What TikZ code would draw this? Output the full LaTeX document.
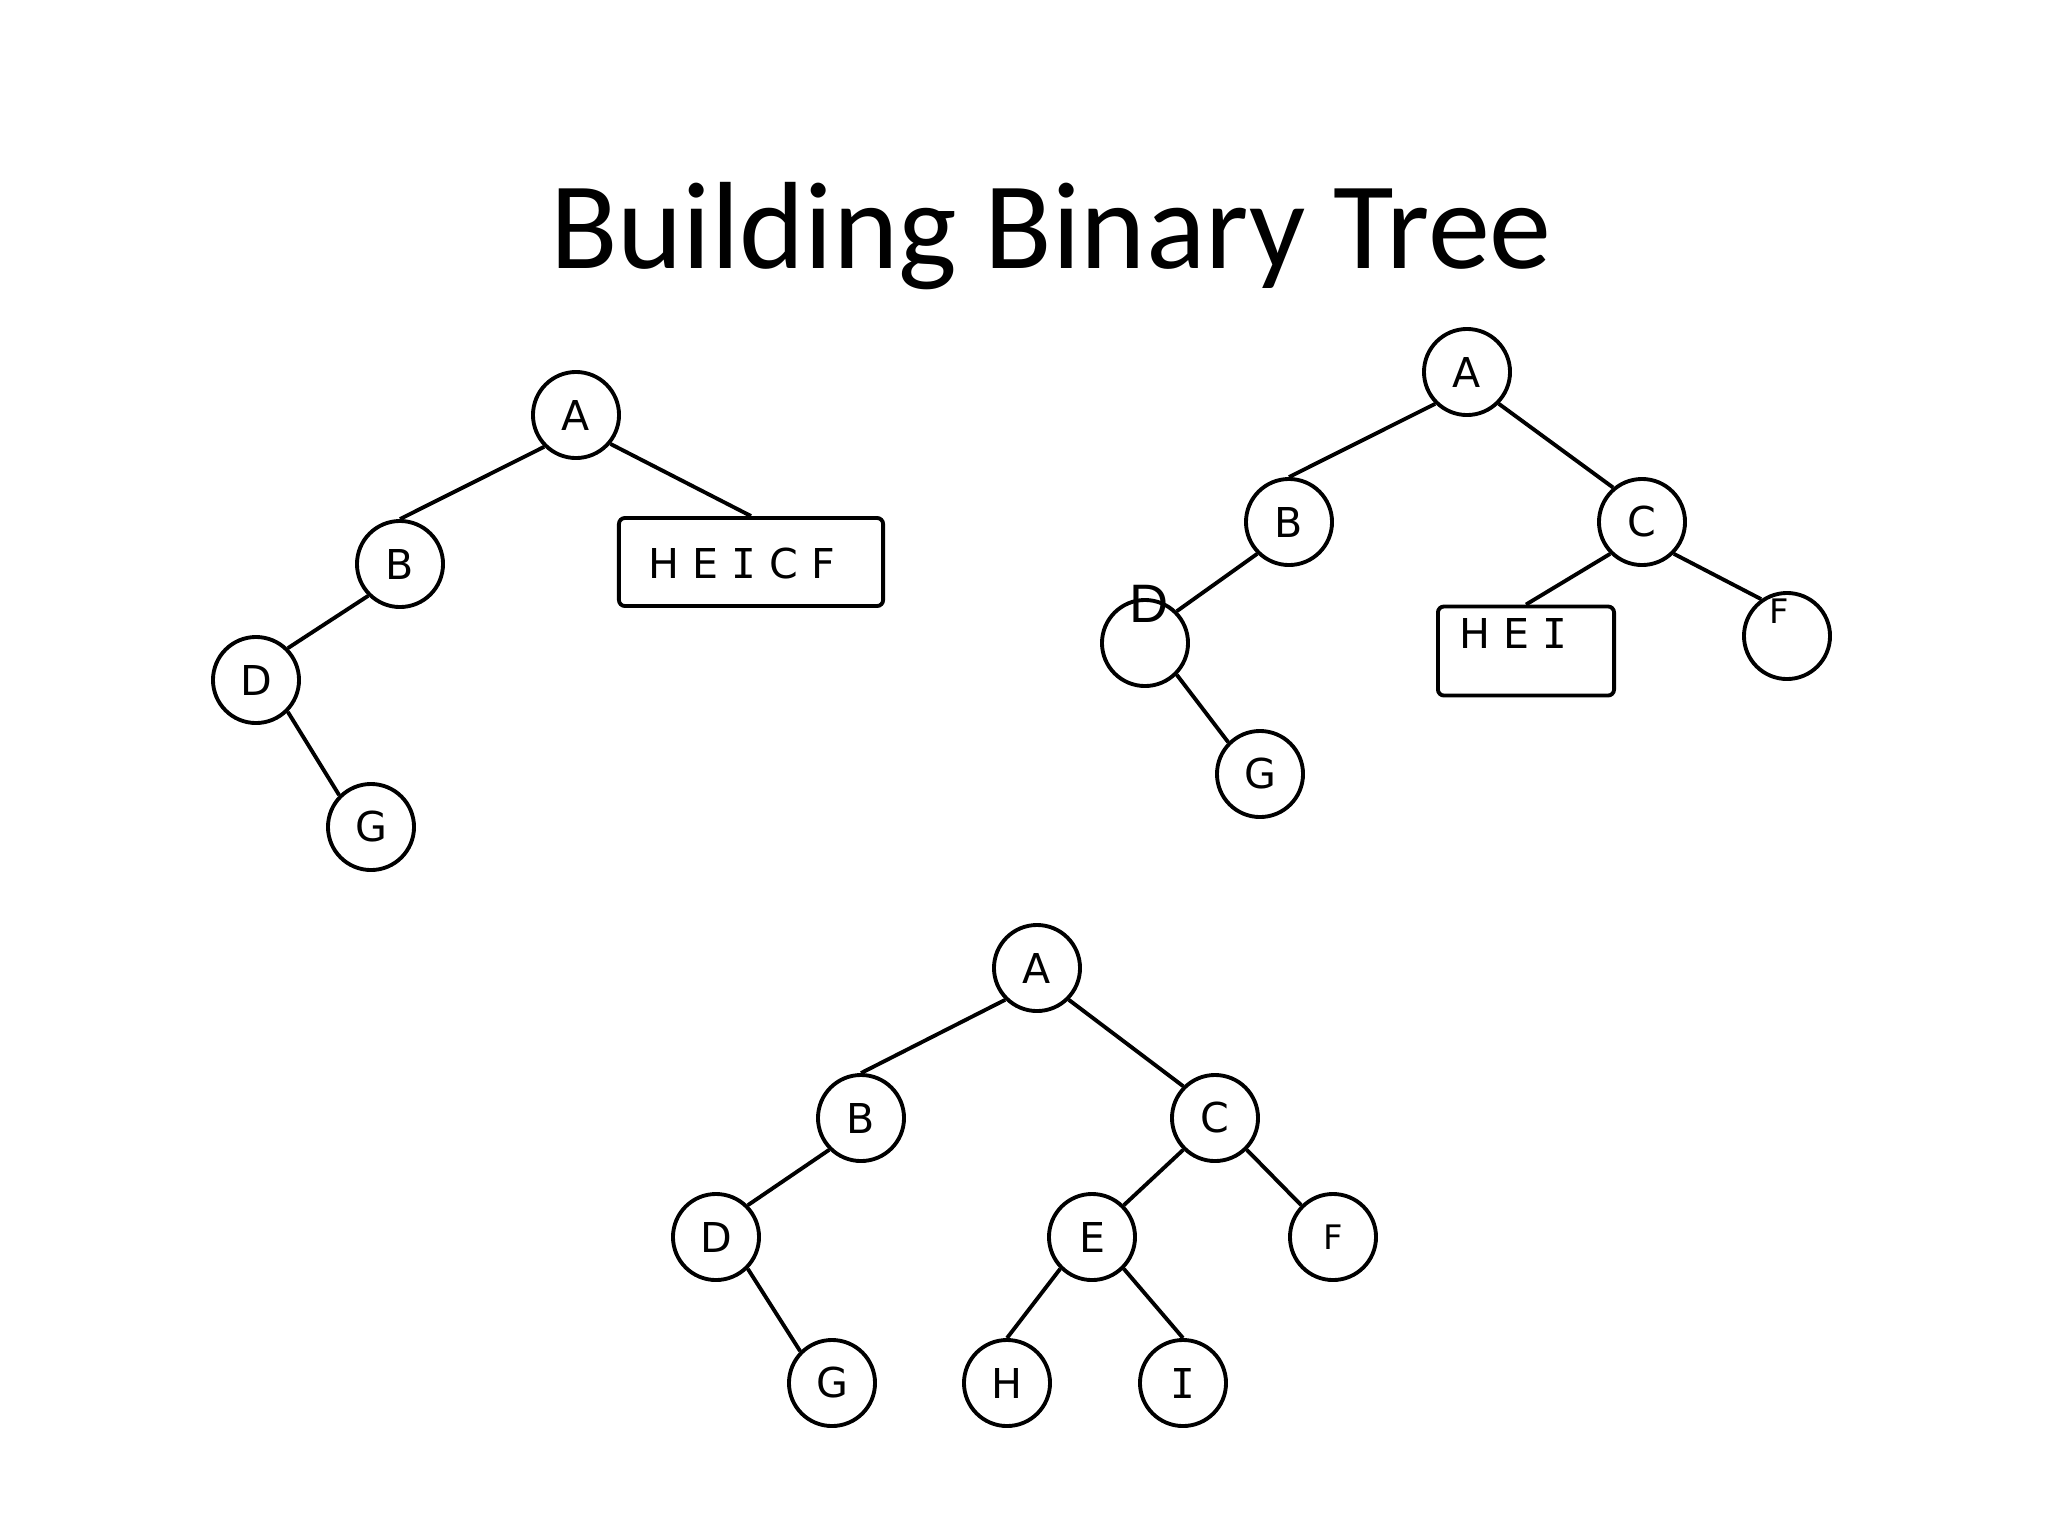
\documentclass[tikz,border=0pt]{standalone}
\usepackage{fontspec}
\setmainfont{DejaVu Sans}
\newfontfamily\titlefont{Carlito}
\newfontfamily\arialfont{Liberation Sans}
\newfontfamily\monofont{DejaVu Sans Mono}
\newcommand{\serifI}{{\monofont I}}
\begin{document}
\begin{tikzpicture}[x=0.01cm,y=-0.01cm,
  nd/.style={circle,draw,line width=1.1pt,minimum size=0.86cm,inner sep=0pt,font=\fontsize{11.7}{14}\selectfont},
  bx/.style={draw,line width=1.1pt,rounded corners=0.06cm,inner sep=0pt},
  lbl/.style={inner sep=0pt,font=\fontsize{11.7}{14}\selectfont},
  small/.style={inner sep=0pt,font=\fontsize{9.6}{12}\selectfont},
  ed/.style={line width=1.1pt}]
\path[use as bounding box, fill=white] (0,0) rectangle (2048,1536);
% title
\node[anchor=base,inner sep=0pt,font=\titlefont\fontsize{35.3}{42}\selectfont] (title) at (1051,268) {Building Binary Tree};
% ---------- tree 1 ----------
\node[nd] (a1) at (576,415) {A};
\node[nd] (b1) at (400,564) {B};
\node[nd] (d1) at (256,680) {D};
\node[nd] (g1) at (371,827) {G};
\node[bx,minimum width=2.64cm,minimum height=0.88cm] (t1box) at (751,562) {};
\node[lbl,anchor=west] (t1txt) at (648,564) {H E \serifI{} C F};
\draw[ed] (a1.south west) -- (b1.north);
\draw[ed] (a1.-40) -- (t1box.north);
\draw[ed] (b1.south west) -- (d1.north east);
\draw[ed] (d1.south east) -- (g1.north west);
% ---------- tree 2 ----------
\node[nd] (a2) at (1467,372) {A};
\node[nd] (b2) at (1289,522) {B};
\node[nd] (c2) at (1642,522) {C};
\node[nd] (d2) at (1145,643) {};
\node[inner sep=0pt,font=\arialfont\fontsize{15.4}{18}\selectfont] (d2l) at (1149,604) {D};
\node[nd] (g2) at (1260,774) {G};
\node[bx,minimum width=1.76cm,minimum height=0.89cm] (t2box) at (1526,651) {};
\node[lbl] (t2txt) at (1513,633) {H E \serifI};
\node[nd] (f2) at (1787,636) {};
\node[small] (f2l) at (1779,611) {F};
\draw[ed] (a2.south west) -- (b2.north);
\draw[ed] (a2.south east) -- (c2.130);
\draw[ed] (b2.south west) -- (d2.north east);
\draw[ed] (d2.south east) -- (g2.north west);
\draw[ed] (c2.south west) -- (t2box.north);
\draw[ed] (c2.south east) -- (f2.125);
% ---------- tree 3 ----------
\node[nd] (a3) at (1037,968) {A};
\node[nd] (b3) at (861,1118) {B};
\node[nd] (c3) at (1215,1118) {C};
\node[nd] (d3) at (716,1237) {D};
\node[nd] (e3) at (1092,1237) {E};
\node[nd,font=\fontsize{9.6}{12}\selectfont] (f3) at (1333,1237) {F};
\node[nd] (g3) at (832,1383) {G};
\node[nd] (h3) at (1007,1383) {H};
\node[nd] (i3) at (1183,1383) {\serifI};
\draw[ed] (a3.south west) -- (b3.north);
\draw[ed] (a3.south east) -- (c3.north west);
\draw[ed] (b3.south west) -- (d3.north east);
\draw[ed] (c3.south west) -- (e3.north east);
\draw[ed] (c3.south east) -- (f3.north west);
\draw[ed] (d3.south east) -- (g3.north west);
\draw[ed] (e3.south west) -- (h3.north);
\draw[ed] (e3.south east) -- (i3.north);
\end{tikzpicture}
\end{document}
